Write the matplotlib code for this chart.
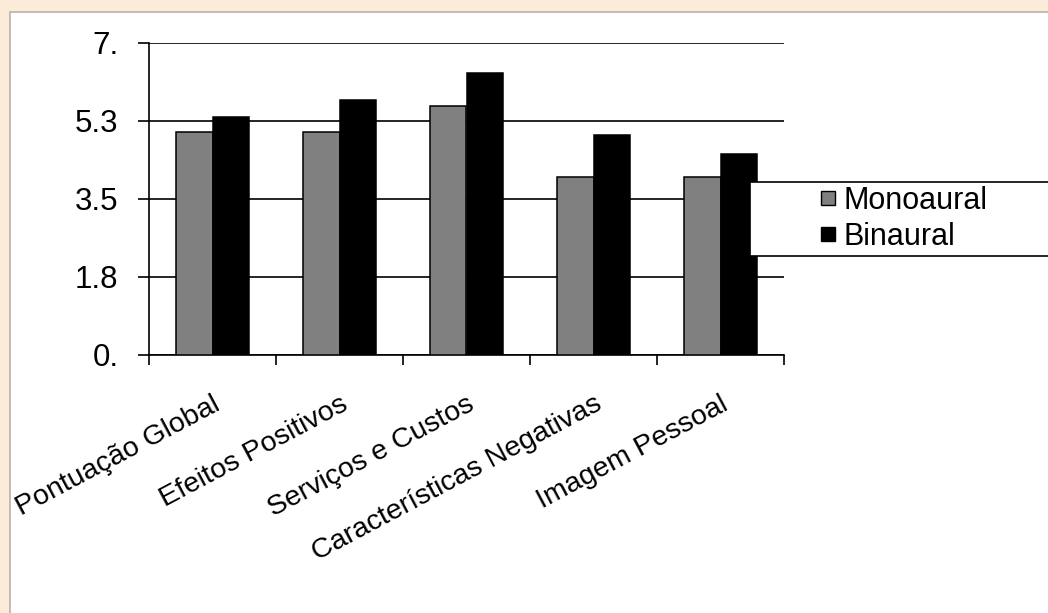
import numpy as np
import matplotlib.pyplot as plt
from matplotlib.patches import Rectangle, Patch

plt.rcParams['font.family'] = ['Liberation Sans', 'DejaVu Sans']

categories = ['Pontuação Global', 'Efeitos Positivos', 'Serviços e Custos',
              'Características Negativas', 'Imagem Pessoal']
monoaural = [5.0, 5.0, 5.58, 4.0, 4.0]
binaural = [5.33, 5.72, 6.33, 4.93, 4.52]
series_names = ['Monoaural', 'Binaural']
ytick_vals = [0, 1.75, 3.5, 5.25, 7]
ytick_labels = ['0.', '1.8', '3.5', '5.3', '7.']

W, H = 1048, 613
fig = plt.figure(figsize=(W / 100, H / 100), dpi=100)
fig.patch.set_facecolor('#FDEBDA')

# white panel inside the peach border
fig.patches.append(Rectangle((10 / W, -0.01), 1.0, (H - 12) / H + 0.01,
                             transform=fig.transFigure, facecolor='white',
                             edgecolor='#B9B1A8', linewidth=1.2, zorder=-5))

ax = fig.add_axes([149 / W, (H - 355) / H, (784 - 149) / W, (355 - 43) / H])
ax.set_facecolor('none')

x = np.arange(len(categories))
bw = 0.29
ax.bar(x - bw / 2, monoaural, bw, color='#808080', edgecolor='black',
       linewidth=1.1, zorder=3)
ax.bar(x + bw / 2, binaural, bw, color='black', edgecolor='black',
       linewidth=1.1, zorder=3)

ax.set_xlim(-0.5, len(categories) - 0.5)
ax.set_ylim(0, 7)
ax.set_yticks(ytick_vals)
ax.set_yticklabels(ytick_labels, fontsize=22.5)
ax.yaxis.grid(True, color='black', linewidth=1.2, zorder=1)
ax.tick_params(axis='y', direction='out', length=8, width=1.2, pad=14)

ax.set_xticks(x)
ax.set_xticklabels(categories, fontsize=20.5, rotation=28, ha='right',
                   va='top', rotation_mode='anchor')
ax.set_xticks(np.arange(len(categories) + 1) - 0.5, minor=True)
ax.tick_params(axis='x', which='major', length=0, pad=26)
ax.tick_params(axis='x', which='minor', direction='out', length=7, width=1.2)

for s in ['top', 'right']:
    ax.spines[s].set_visible(False)
for s in ['left', 'bottom']:
    ax.spines[s].set_linewidth(1.2)
ax.set_axisbelow(True)

# legend box running off the right edge
fig.patches.append(Rectangle((750 / W, (H - 256) / H), 0.4, 74 / H,
                             transform=fig.transFigure, facecolor='white',
                             edgecolor='black', linewidth=1.2, zorder=4))
handles = [Patch(facecolor='#808080', edgecolor='black', linewidth=1),
           Patch(facecolor='black', edgecolor='black', linewidth=1)]
leg = fig.legend(handles, series_names, loc='center left',
                 bbox_to_anchor=(821 / W, 1 - 219 / H), frameon=False,
                 fontsize=22, handlelength=0.45, handleheight=0.36,
                 handletextpad=0.3, labelspacing=0.2, borderpad=0,
                 borderaxespad=0)
leg.set_zorder(5)

fig.savefig('out.png', dpi=100, facecolor=fig.get_facecolor())
